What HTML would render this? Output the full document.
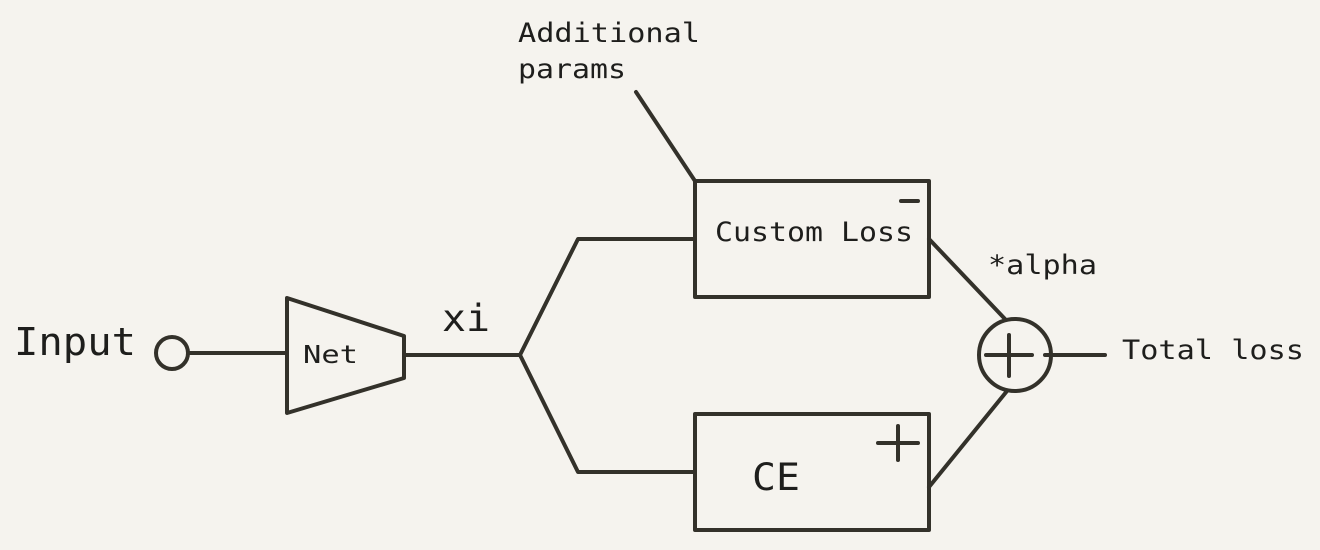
<!DOCTYPE html>
<html><head><meta charset="utf-8"><style>
html,body{margin:0;padding:0;background:#f5f3ee;}
svg{display:block;}
text{font-family:"DejaVu Sans Mono","Liberation Mono",monospace;fill:#1e1e1c;}
</style></head><body>
<svg width="1320" height="550" viewBox="0 0 1320 550">
<rect width="1320" height="550" fill="#f5f3ee"/>
<g stroke="#33312a" stroke-width="4" fill="none" stroke-linecap="round" stroke-linejoin="round">
<circle cx="172" cy="353" r="16"/>
<line x1="188" y1="353" x2="287" y2="353"/>
<polygon points="287,298 404,336 404,378 287,413"/>
<line x1="404" y1="355" x2="520" y2="355"/>
<polyline points="695,239 578,239 520,355 578,472 695,472"/>
<rect x="695" y="181" width="234" height="116"/>
<rect x="695" y="414" width="234" height="116"/>
<line x1="901" y1="201" x2="918" y2="201"/>
<line x1="878" y1="443" x2="918" y2="443"/>
<line x1="898" y1="426" x2="898" y2="460"/>
<line x1="636" y1="92" x2="695" y2="181"/>
<line x1="929" y1="239" x2="1005" y2="319"/>
<line x1="929" y1="487" x2="1007" y2="391"/>
<circle cx="1015" cy="355" r="36"/>
<line x1="986" y1="355" x2="1032" y2="355"/>
<line x1="1009" y1="335" x2="1009" y2="376"/>
<line x1="1045" y1="355" x2="1105" y2="355"/>
</g>
<g>
<text x="14" y="355" font-size="38" textLength="122" lengthAdjust="spacingAndGlyphs">Input</text>
<text x="303" y="363" font-size="25" textLength="55" lengthAdjust="spacingAndGlyphs">Net</text>
<text x="442" y="331" font-size="37" textLength="48" lengthAdjust="spacingAndGlyphs">xi</text>
<text x="715" y="241" font-size="27" textLength="198" lengthAdjust="spacingAndGlyphs">Custom Loss</text>
<text x="752" y="490" font-size="37" textLength="48" lengthAdjust="spacingAndGlyphs">CE</text>
<text x="988" y="274" font-size="27" textLength="109" lengthAdjust="spacingAndGlyphs">*alpha</text>
<text x="1122" y="359" font-size="27" textLength="182" lengthAdjust="spacingAndGlyphs">Total loss</text>
<text x="518" y="42" font-size="27" textLength="182" lengthAdjust="spacingAndGlyphs">Additional</text>
<text x="518" y="78" font-size="27" textLength="108" lengthAdjust="spacingAndGlyphs">params</text>
</g>
</svg>
</body></html>
